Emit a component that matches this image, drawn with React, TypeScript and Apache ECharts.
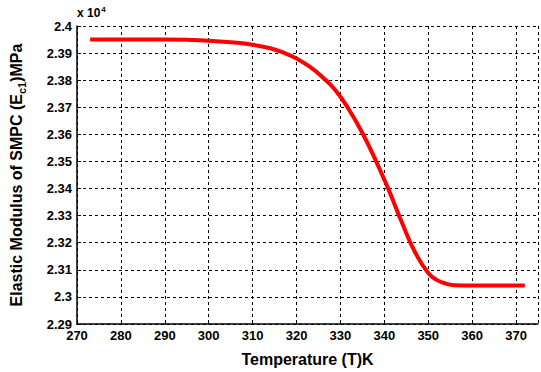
import React, { useEffect, useRef } from "react";
import * as echarts from "echarts";

const temperature = [273, 280, 290, 295, 300, 305, 310, 314, 317, 320, 323, 326, 329, 332, 335, 338, 341, 344, 347, 350, 352, 354, 356, 360, 365, 372];
const modulus = [2.395, 2.395, 2.395, 2.3949, 2.3946, 2.394, 2.3931, 2.3918, 2.3902, 2.388, 2.385, 2.381, 2.376, 2.369, 2.3605, 2.3505, 2.3395, 2.3275, 2.3165, 2.3088, 2.3062, 2.3049, 2.3043, 2.3042, 2.3042, 2.3042];
const xTicks = [270, 280, 290, 300, 310, 320, 330, 340, 350, 360, 370];
const yTicks = [2.29, 2.3, 2.31, 2.32, 2.33, 2.34, 2.35, 2.36, 2.37, 2.38, 2.39, 2.4];

export default function App() {
  const ref = useRef<HTMLDivElement>(null);
  useEffect(() => {
    if (!ref.current) return;
    const chart = echarts.init(ref.current, undefined, { renderer: "svg" });
    const font = "'Liberation Sans', Arial, sans-serif";
    chart.setOption({
      animation: false,
      grid: { left: 77, top: 26, right: 3, bottom: 43, containLabel: false },
      graphic: [
        {
          type: "text",
          left: 77,
          top: 5,
          style: {
            text: "x 10{sup|4}",
            rich: { sup: { fontSize: 8, fontWeight: "bold", fontFamily: font, padding: [0, 0, 8, 1] } },
            fontSize: 12,
            fontWeight: "bold",
            fontFamily: font,
            fill: "#000",
          },
        },
      ],
      xAxis: {
        type: "value",
        min: 270,
        max: 375,
        interval: 10,
        name: "Temperature (T)K",
        nameLocation: "middle",
        nameGap: 27,
        nameTextStyle: { fontSize: 16, fontWeight: "bold", fontFamily: font, color: "#000" },
        axisLine: { show: true, onZero: false, lineStyle: { color: "#000", width: 1.5 } },
        axisTick: { show: true, inside: true, length: 4, lineStyle: { color: "#000" } },
        axisLabel: {
          fontSize: 13,
          fontWeight: "bold",
          fontFamily: font,
          color: "#000",
          margin: 5,
          showMaxLabel: false,
          formatter: (v: number) => (xTicks.includes(Math.round(v)) ? String(Math.round(v)) : ""),
        },
        splitLine: { show: true, lineStyle: { color: "#000", type: [3, 3], width: 1 } },
      },
      yAxis: {
        type: "value",
        min: 2.29,
        max: 2.4,
        interval: 0.01,
        name: "Elastic Modulus of SMPC (E{sub|c1})MPa",
        nameLocation: "middle",
        nameGap: 50,
        nameRotate: 90,
        nameTextStyle: {
          fontSize: 16,
          fontWeight: "bold",
          fontFamily: font,
          color: "#000",
          rich: { sub: { fontSize: 11, fontWeight: "bold", fontFamily: font, padding: [10, 0, 0, 0] } },
        },
        axisLine: { show: true, onZero: false, lineStyle: { color: "#000", width: 1.5 } },
        axisTick: { show: true, inside: true, length: 4, lineStyle: { color: "#000" } },
        axisLabel: {
          fontSize: 13,
          fontWeight: "bold",
          fontFamily: font,
          color: "#000",
          margin: 5,
          formatter: (v: number) => {
            const r = Math.round(v * 100) / 100;
            return yTicks.some((t) => Math.abs(t - r) < 1e-9) ? String(parseFloat(r.toFixed(2))) : "";
          },
        },
        splitLine: { show: true, lineStyle: { color: "#000", type: [3, 3], width: 1 } },
      },
      series: [
        {
          type: "line",
          data: temperature.map((t, i) => [t, modulus[i]]),
          smooth: 0.5,
          showSymbol: false,
          lineStyle: { color: "#ff0000", width: 4 },
        },
      ],
    });
    return () => chart.dispose();
  }, []);
  return <div ref={ref} style={{ width: 541, height: 372, position: "absolute", left: 0, top: 0 }} />;
}
